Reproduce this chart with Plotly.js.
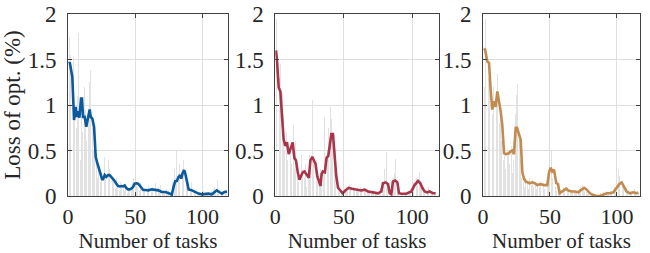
<!DOCTYPE html>
<html>
<head>
<meta charset="utf-8">
<script src="https://cdn.plot.ly/plotly-3.0.1.min.js"></script>
<style>html,body{margin:0;padding:0;background:#fff;}#chart{width:650px;height:253px;}</style>
</head>
<body>
<div id="chart"></div>
<script>
// ---------- data ----------
const bars1 = [1.75,1.55,1.2,1.53,0.95,0.75,1.1,1.79,0.4,1.0,
  0.7,1.2,0.95,0.6,0.85,1.25,1.38,0.8,0.5,0.55,
  0.35,0.2,0.3,0.15,0.25,0.1,0.43,0.2,0.15,0.4,
  0.3,0.1,0.2,0.15,0.08,0.2,0.1,0.05,0.15,0.1,
  0.12,0.05,0.1,0.03,0.08,0.06,0.1,0.15,0.2,0.18,
  0.12,0.1,0.06,0.15,0.05,0.04,0.08,0.1,0.05,0.12,
  0.06,0.08,0.1,0.04,0.14,0.06,0.1,0.03,0.12,0.05,
  0.06,0.03,0.08,0.02,0.05,0.01,0.02,0.15,0.3,0.2,
  0.5,0.25,0.35,0.15,0.3,0.4,0.58,0.2,0.1,0.05,
  0.08,0.15,0.04,0.06,0.02,0.03,0.01,0.02,0.03,0.01,
  0.05,0.02,0.04,0.03,0.02,0.01,0.05,0.08,0.1,0.06,
  0.18,0.05,0.04,0.02,0.06,0.08,0.04,0.07,0.05];
const bars2 = [1.95,1.6,1.3,1.45,1.13,0.9,0.5,0.7,0.4,0.94,
  0.5,0.35,0.78,0.3,0.6,0.2,0.15,0.25,0.45,0.3,
  0.2,0.35,0.1,0.3,0.45,0.3,1.05,0.35,0.25,0.4,
  0.15,0.1,0.3,0.2,0.25,0.87,0.3,0.5,0.75,0.98,
  0.85,0.6,0.4,0.2,0.1,0.05,0.04,0.03,0.02,0.05,
  0.08,0.1,0.05,0.12,0.08,0.06,0.1,0.07,0.05,0.09,
  0.06,0.1,0.05,0.12,0.08,0.04,0.06,0.03,0.05,0.02,
  0.04,0.03,0.02,0.04,0.03,0.05,0.1,0.15,0.12,0.3,
  0.48,0.1,0.02,0.03,0.15,0.2,0.25,0.41,0.1,0.02,
  0.01,0.02,0.03,0.01,0.02,0.03,0.05,0.04,0.06,0.1,
  0.15,0.12,0.2,0.18,0.26,0.1,0.08,0.04,0.03,0.05,
  0.04,0.1,0.06,0.03,0.05,0.02,0.04,0.03,0.02];
const bars3 = [1.2,1.95,1.65,1.3,1.45,1.0,0.9,1.2,0.75,1.1,
  1.34,0.8,1.0,0.6,0.4,0.55,0.3,0.5,0.45,0.35,
  0.55,0.25,0.4,0.9,1.11,1.23,0.6,0.4,0.2,0.15,
  0.1,0.2,0.15,0.08,0.2,0.12,0.18,0.1,0.15,0.08,
  0.12,0.1,0.15,0.1,0.12,0.08,0.14,0.1,0.3,0.78,
  0.5,0.2,0.58,0.1,0.05,0.03,0.05,0.08,0.06,0.1,
  0.08,0.05,0.1,0.04,0.06,0.05,0.03,0.06,0.04,0.05,
  0.06,0.08,0.1,0.12,0.08,0.05,0.04,0.02,0.03,0.01,
  0.02,0.01,0.0,0.01,0.0,0.02,0.01,0.03,0.02,0.04,
  0.03,0.05,0.02,0.04,0.06,0.03,0.05,0.1,0.08,0.15,
  0.3,0.22,0.18,0.15,0.12,0.08,0.05,0.03,0.04,0.02,
  0.05,0.03,0.08,0.04,0.06,0.03];

const lineX1 = [1,1.3,3.2,4.5,5.7,6.5,7.5,8.5,9.7,10.4,11.2,12.4,13.6,14.9,16.1,16.9,18.1,19.4,20.6,21.8,23.1,24.3,25.5,26.3,27.3,28.5,29.8,31,32.3,33.5,34.7,36,37.2,38.4,39.7,40.9,42.2,43.4,44.7,45.9,47.1,48.4,49.6,50.9,52.1,53.4,54.6,55.9,57.8,59.8,62.3,64.8,67.2,69.7,72.2,74.7,77.2,78.5,79.7,81,82.2,83.5,84.2,85.2,86.4,87.2,88.5,89.7,92.2,94.6,97.1,99.6,102.1,104.5,107,109,110.7,112.5,114.5,116.5,118.2];
const lineY1 = [1.46,1.47,1.31,0.835,0.98,0.87,0.93,0.86,1.07,1.07,0.87,0.87,0.76,0.87,0.95,0.87,0.85,0.76,0.43,0.36,0.285,0.23,0.176,0.19,0.23,0.21,0.23,0.23,0.21,0.19,0.165,0.135,0.11,0.105,0.11,0.105,0.115,0.088,0.073,0.073,0.08,0.1,0.135,0.14,0.135,0.115,0.088,0.066,0.066,0.062,0.073,0.07,0.062,0.044,0.044,0.033,0.015,0.1,0.16,0.165,0.21,0.23,0.19,0.25,0.285,0.25,0.135,0.073,0.062,0.044,0.026,0.018,0.026,0.026,0.018,0.044,0.062,0.044,0.026,0.044,0.05];

const lineX2 = [0.5,1.2,2.5,3.7,4.9,6.1,7.3,8.5,9.8,11,12.7,13.9,15.1,16.4,17.6,18.8,20,21.3,22.5,23.5,24.5,25.6,27,28.2,29.4,30.6,31.8,33,33.8,34.7,36.2,37.4,38.7,39.6,40.9,42.1,43.3,44.5,45.8,47.5,49.2,51.1,53.6,56,58.5,60.4,62.8,65.2,67.7,71.3,75,77.4,78.6,80.6,82.3,83.5,84.7,85.9,87.6,89.1,90.3,92,95.6,99.3,101.7,104.2,105.9,107.3,109,110.7,112.7,115.1,117];
const lineY2 = [1.6,1.5,1.19,1.15,0.88,0.62,0.55,0.59,0.46,0.51,0.59,0.42,0.39,0.26,0.18,0.22,0.26,0.27,0.24,0.22,0.2,0.39,0.43,0.39,0.35,0.22,0.16,0.11,0.24,0.27,0.26,0.42,0.44,0.57,0.68,0.68,0.44,0.22,0.09,0.06,0.03,0.06,0.09,0.08,0.07,0.07,0.06,0.07,0.05,0.04,0.03,0.05,0.14,0.15,0.13,0.03,0.02,0.16,0.17,0.15,0.03,0.025,0.025,0.05,0.12,0.165,0.14,0.09,0.05,0.04,0.05,0.03,0.03];

const lineX3 = [0.7,1.5,3.2,4.5,5.7,6.9,8.2,9.4,10.7,11.9,13.2,14.4,15.7,16.9,18.2,19.4,20.6,21.9,23.1,24.4,25.4,26.9,28.1,29.4,30.6,31.8,33.1,34.8,36.8,38.6,40.5,43,45.5,48,49.3,50.5,51.7,53,54.7,56,57.2,59.2,60,62,63.7,66.2,68.7,71.2,73.6,75.6,77.4,79.9,82.4,84.9,87.3,89.8,92.3,94.8,97.3,99.8,101.7,103.5,105.2,107.2,109.7,112.2,114.7,115.9];
const lineY3 = [1.62,1.61,1.48,1.46,1.17,0.95,1.04,0.98,1.15,1.06,0.93,0.78,0.47,0.46,0.47,0.47,0.49,0.5,0.46,0.75,0.75,0.68,0.62,0.26,0.19,0.16,0.15,0.14,0.15,0.14,0.12,0.13,0.12,0.12,0.26,0.31,0.27,0.29,0.14,0.13,0.03,0.05,0.06,0.08,0.06,0.05,0.05,0.04,0.07,0.09,0.07,0.03,0.01,0.0,0.0,0.015,0.03,0.03,0.04,0.09,0.13,0.15,0.11,0.05,0.03,0.04,0.03,0.04];

const xTickVals = [0,50,100];
const xTickText = ['0','50','100'];
const yTickVals = [0,0.5,1,1.5,2];
const yTickText = ['0','0.5','1','1.5','2'];
const xTitle = 'Number of tasks';
const yTitle = 'Loss of opt. (%)';

const colors = ['#0a5a9c','#a8354a','#c28b4f'];
const barColor = '#e2e2e2';

// ---------- build ----------
function idx(n){const a=[];for(let i=1;i<=n;i++)a.push(i);return a;}
const barsAll=[bars1,bars2,bars3];
const lxAll=[lineX1,lineX2,lineX3];
const lyAll=[lineY1,lineY2,lineY3];
const traces=[];
for(let k=0;k<3;k++){
  const xa = k===0?'x':'x'+(k+1), ya = k===0?'y':'y'+(k+1);
  traces.push({type:'bar',x:idx(barsAll[k].length),y:barsAll[k],xaxis:xa,yaxis:ya,
    marker:{color:barColor,line:{width:0}},width:0.65,hoverinfo:'skip'});
  traces.push({type:'scatter',mode:'lines',x:lxAll[k],y:lyAll[k],xaxis:xa,yaxis:ya,
    line:{color:colors[k],width:2.6},hoverinfo:'skip'});
}
const FAM = 'Liberation Serif';
function f(size){return {family:FAM,size:size,color:'#262626'};}
const xDomains=[[68/650,228/650],[275.3/650,439/650],[483/650,640/650]];
const xRanges=[[0,119],[0,119.5],[0,117.2]];
const yDom=[1-196/253,1-14/253];
const layout={width:650,height:253,margin:{l:0,r:0,t:0,b:0},paper_bgcolor:'#fff',plot_bgcolor:'#fff',
  showlegend:false,bargap:0,font:f(21)};
for(let k=0;k<3;k++){
  const xn = k===0?'xaxis':'xaxis'+(k+1), yn = k===0?'yaxis':'yaxis'+(k+1);
  const xa = k===0?'x':'x'+(k+1), ya = k===0?'y':'y'+(k+1);
  layout[xn]={domain:xDomains[k],range:xRanges[k],anchor:ya,tickvals:xTickVals,ticktext:xTickText,
    ticks:'inside',ticklen:4,tickcolor:'#404040',showline:true,linecolor:'#404040',linewidth:1,mirror:'ticks',
    showgrid:true,gridcolor:'#dedede',gridwidth:1,zeroline:false,automargin:false,
    tickfont:f(22),ticklabelstandoff:1,
    title:{text:xTitle,font:f(21),standoff:4}};
  layout[yn]={domain:yDom,range:[0,2],anchor:xa,tickvals:yTickVals,ticktext:yTickText,
    ticks:'inside',ticklen:4,tickcolor:'#404040',showline:true,linecolor:'#404040',linewidth:1,mirror:'ticks',
    showgrid:true,gridcolor:'#dedede',gridwidth:1,zeroline:false,automargin:false,
    tickfont:f(23),ticklabelstandoff:6};
}
layout.yaxis.title={text:yTitle,font:f(23),standoff:0};
Plotly.newPlot('chart',traces,layout,{displayModeBar:false,staticPlot:true});
</script>
</body>
</html>
